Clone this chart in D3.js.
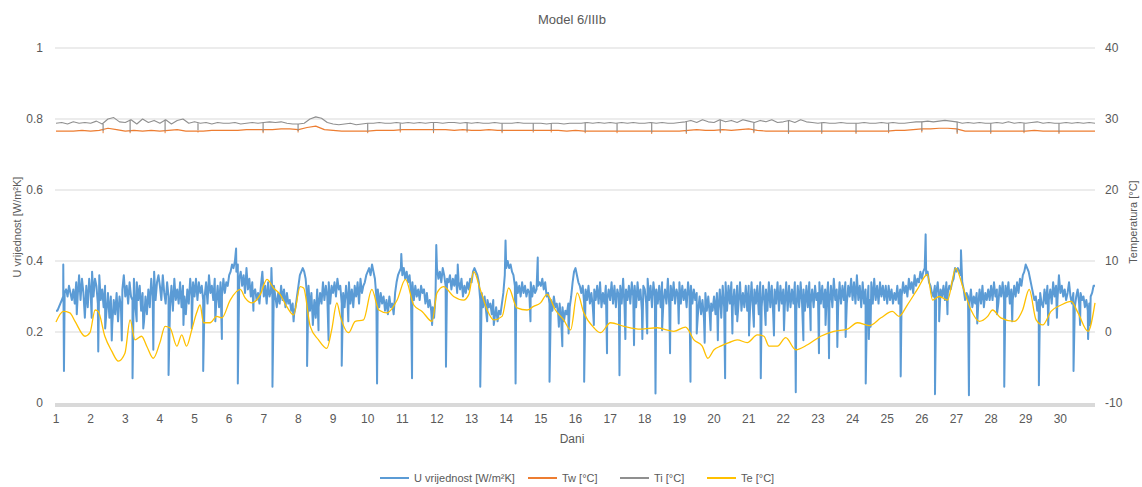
<!DOCTYPE html>
<html><head><meta charset="utf-8">
<script src="https://cdn.jsdelivr.net/npm/d3@7"></script>
<style>
html,body{margin:0;padding:0;background:#fff;}
svg{display:block;font-family:"Liberation Sans",Arial,sans-serif;}
</style></head>
<body><svg id="chart" width="1142" height="487"></svg>
<script>
// ---- DATA ----
const dayTicks = [1,2,3,4,5,6,7,8,9,10,11,12,13,14,15,16,17,18,19,20,21,22,23,24,25,26,27,28,29,30];
const uTicks = [0,0.2,0.4,0.6,0.8,1];
const uTickLabels = ["0","0.2","0.4","0.6","0.8","1"];
const tTicks = [-10,0,10,20,30,40];
const tTickLabels = ["-10","0","10","20","30","40"];

// U value, hourly (24 per day), day 1.0 .. 31.0
const uValues = [
 0.26,0.26,0.27,0.28,0.29,0.30,0.31,0.32,0.30,0.33,0.31,0.29,0.32,0.28,0.34,0.30,0.36,0.29,0.35,0.31,0.24,0.33,0.27,0.35,
 0.31,0.37,0.30,0.35,0.33,0.28,0.36,0.29,0.32,0.27,0.33,0.26,0.31,0.24,0.30,0.22,0.29,0.25,0.31,0.23,0.30,0.27,0.32,0.36,
 0.30,0.33,0.28,0.34,0.30,0.29,0.35,0.27,0.34,0.29,0.33,0.26,0.31,0.23,0.30,0.25,0.32,0.27,0.35,0.30,0.37,0.29,0.34,0.36,
 0.33,0.29,0.36,0.31,0.28,0.34,0.30,0.27,0.33,0.26,0.35,0.29,0.32,0.28,0.34,0.27,0.33,0.30,0.25,0.32,0.28,0.35,0.30,0.34,
 0.30,0.35,0.29,0.34,0.31,0.33,0.29,0.30,0.34,0.28,0.36,0.31,0.33,0.29,0.35,0.28,0.33,0.27,0.34,0.30,0.35,0.31,0.34,0.33,
 0.36,0.37,0.39,0.38,0.40,0.37,0.39,0.35,0.37,0.33,0.36,0.31,0.38,0.32,0.35,0.30,0.34,0.31,0.32,0.29,0.31,0.28,0.33,0.37,
 0.30,0.33,0.28,0.34,0.30,0.32,0.29,0.33,0.30,0.27,0.31,0.28,0.33,0.29,0.32,0.27,0.31,0.28,0.29,0.26,0.28,0.25,0.27,0.30,
 0.33,0.36,0.37,0.38,0.37,0.35,0.30,0.33,0.26,0.31,0.22,0.29,0.24,0.32,0.27,0.31,0.28,0.34,0.29,0.33,0.30,0.34,0.28,0.33,
 0.31,0.34,0.30,0.35,0.32,0.33,0.28,0.31,0.27,0.33,0.29,0.34,0.28,0.32,0.27,0.33,0.30,0.34,0.28,0.35,0.31,0.33,0.34,0.36,
 0.37,0.38,0.36,0.39,0.37,0.35,0.30,0.32,0.27,0.31,0.28,0.30,0.26,0.29,0.25,0.30,0.27,0.28,0.25,0.31,0.34,0.36,0.37,0.38,
 0.36,0.38,0.35,0.37,0.34,0.36,0.31,0.34,0.29,0.33,0.30,0.32,0.29,0.33,0.31,0.32,0.28,0.31,0.27,0.29,0.26,0.27,0.24,0.30,
 0.38,0.35,0.37,0.34,0.38,0.36,0.33,0.35,0.34,0.36,0.32,0.35,0.33,0.36,0.31,0.34,0.32,0.35,0.30,0.33,0.31,0.34,0.32,0.35,
 0.34,0.37,0.38,0.37,0.36,0.34,0.29,0.31,0.27,0.30,0.26,0.29,0.27,0.28,0.25,0.29,0.24,0.27,0.23,0.26,0.25,0.28,0.31,0.36,
 0.38,0.40,0.38,0.39,0.37,0.36,0.33,0.34,0.31,0.33,0.30,0.34,0.31,0.33,0.30,0.32,0.31,0.34,0.30,0.33,0.31,0.32,0.33,0.34,
 0.33,0.35,0.32,0.34,0.30,0.31,0.28,0.29,0.26,0.30,0.27,0.28,0.25,0.28,0.24,0.27,0.23,0.26,0.25,0.28,0.27,0.30,0.34,0.37,
 0.38,0.36,0.34,0.33,0.31,0.33,0.28,0.32,0.29,0.33,0.28,0.31,0.27,0.32,0.29,0.33,0.28,0.34,0.27,0.31,0.28,0.33,0.29,0.32,
 0.29,0.34,0.28,0.33,0.27,0.32,0.30,0.33,0.28,0.35,0.27,0.32,0.29,0.33,0.28,0.34,0.30,0.33,0.27,0.34,0.29,0.32,0.26,0.33,
 0.32,0.28,0.35,0.29,0.33,0.27,0.34,0.30,0.32,0.28,0.33,0.27,0.34,0.29,0.32,0.28,0.35,0.27,0.33,0.29,0.34,0.28,0.32,0.30,
 0.34,0.28,0.33,0.29,0.32,0.27,0.34,0.30,0.33,0.28,0.32,0.29,0.31,0.26,0.30,0.25,0.29,0.24,0.31,0.26,0.30,0.25,0.28,0.26,
 0.30,0.25,0.31,0.26,0.32,0.24,0.33,0.27,0.34,0.26,0.33,0.28,0.34,0.27,0.32,0.25,0.33,0.28,0.34,0.26,0.31,0.27,0.33,0.26,
 0.33,0.27,0.34,0.26,0.32,0.28,0.33,0.25,0.34,0.27,0.33,0.28,0.32,0.26,0.34,0.27,0.33,0.25,0.32,0.28,0.34,0.26,0.33,0.28,
 0.32,0.27,0.34,0.26,0.33,0.27,0.32,0.28,0.34,0.26,0.33,0.27,0.34,0.28,0.32,0.26,0.33,0.27,0.34,0.28,0.32,0.27,0.33,0.29,
 0.31,0.34,0.28,0.33,0.27,0.32,0.29,0.34,0.28,0.33,0.27,0.35,0.29,0.32,0.27,0.34,0.28,0.33,0.29,0.34,0.28,0.33,0.30,0.35,
 0.29,0.34,0.28,0.36,0.29,0.33,0.27,0.34,0.28,0.32,0.27,0.33,0.29,0.34,0.28,0.35,0.29,0.33,0.28,0.34,0.30,0.33,0.29,0.33,
 0.28,0.33,0.29,0.32,0.28,0.31,0.29,0.33,0.28,0.32,0.30,0.34,0.31,0.33,0.30,0.35,0.32,0.34,0.31,0.36,0.33,0.35,0.34,0.37,
 0.35,0.37,0.38,0.36,0.37,0.34,0.33,0.31,0.30,0.33,0.31,0.34,0.29,0.32,0.30,0.33,0.29,0.34,0.31,0.33,0.32,0.34,0.35,0.38,
 0.37,0.38,0.37,0.36,0.34,0.32,0.29,0.31,0.30,0.28,0.32,0.27,0.30,0.28,0.31,0.27,0.32,0.28,0.33,0.27,0.31,0.29,0.32,0.29,
 0.33,0.29,0.34,0.30,0.32,0.28,0.33,0.30,0.34,0.29,0.33,0.30,0.34,0.28,0.32,0.29,0.33,0.30,0.34,0.31,0.35,0.33,0.36,0.37,
 0.39,0.38,0.37,0.35,0.33,0.31,0.29,0.30,0.26,0.29,0.31,0.28,0.27,0.32,0.28,0.33,0.29,0.32,0.28,0.34,0.30,0.33,0.29,0.36,
 0.31,0.33,0.30,0.32,0.29,0.31,0.34,0.30,0.28,0.31,0.27,0.30,0.32,0.28,0.31,0.29,0.30,0.27,0.29,0.26,0.28,0.30,0.31,0.33,
 0.33
];
// short U spikes and dips (day, value)
const uSpikeDays = [1.21,1.23,1.6,2.03,2.22,2.42,2.61,2.9,3.21,3.33,3.52,3.81,4.25,4.68,4.92,5.25,5.6,5.79,6.20,6.25,6.7,7.22,7.25,7.86,8.25,8.58,8.87,9.25,9.44,10.27,10.97,11.28,11.86,11.98,12.26,12.6,13.25,13.45,13.64,13.98,14.27,14.7,14.91,15.25,15.52,15.62,15.8,16.25,16.53,16.91,17.27,17.44,17.69,17.93,18.07,18.31,18.5,18.73,18.98,19.32,19.5,19.73,19.9,20.11,20.32,20.53,20.67,21.01,21.15,21.35,21.49,21.73,22.02,22.36,22.58,22.79,23.03,23.22,23.32,23.56,23.8,24.38,24.47,24.52,25.39,26.11,26.38,26.5,26.74,27.13,27.36,27.6,28.17,28.38,28.61,29.38,29.65,29.9,30.38,30.57,30.8,30.86];
const uSpikeVals = [0.39,0.09,0.25,0.24,0.145,0.21,0.176,0.176,0.07,0.23,0.21,0.15,0.079,0.22,0.21,0.09,0.23,0.18,0.435,0.055,0.26,0.38,0.046,0.23,0.104,0.205,0.177,0.105,0.23,0.055,0.42,0.07,0.22,0.445,0.102,0.39,0.046,0.23,0.22,0.458,0.055,0.23,0.41,0.06,0.215,0.16,0.196,0.06,0.22,0.14,0.078,0.18,0.163,0.18,0.196,0.027,0.205,0.14,0.224,0.06,0.196,0.17,0.205,0.177,0.07,0.196,0.23,0.19,0.215,0.07,0.22,0.19,0.205,0.03,0.177,0.205,0.14,0.22,0.126,0.158,0.186,0.055,0.18,0.215,0.075,0.475,0.025,0.23,0.25,0.43,0.022,0.224,0.25,0.046,0.23,0.05,0.22,0.24,0.09,0.22,0.18,0.22];

// Te (outdoor temperature) read points
const teDays = [1.0,1.21,1.40,1.55,1.84,1.98,2.13,2.22,2.41,2.61,2.80,2.99,3.14,3.28,3.47,3.62,3.81,4.0,4.15,4.29,4.49,4.63,4.77,4.92,5.06,5.16,5.26,5.45,5.64,5.79,6.03,6.32,6.46,6.66,6.90,7.09,7.28,7.47,7.66,7.86,8.05,8.15,8.34,8.58,8.82,8.96,9.11,9.21,9.45,9.64,9.88,10.12,10.32,10.56,10.85,11.09,11.33,11.57,11.86,12.0,12.19,12.48,12.77,12.92,13.06,13.25,13.45,13.64,13.88,14.07,14.31,14.60,14.79,14.99,15.18,15.42,15.66,15.86,16.05,16.24,16.53,16.72,17.01,17.40,17.88,18.36,18.84,19.18,19.42,19.66,19.82,20.0,20.19,20.43,20.67,20.96,21.25,21.44,21.59,21.83,22.07,22.36,22.70,23.08,23.46,23.85,24.14,24.48,24.82,25.15,25.34,25.58,25.87,26.16,26.31,26.50,26.74,26.98,27.18,27.42,27.66,27.90,28.04,28.28,28.67,28.91,29.10,29.30,29.49,29.73,30.02,30.31,30.51,30.80,31.0];
const teVals = [1.4,2.9,2.7,1.5,-0.6,-0.1,3.1,2.9,-0.6,-2.7,-4.1,-3.0,1.7,-1.1,-0.6,-2.0,-3.7,-1.5,0.8,0.6,-2.0,-0.4,-2.0,0.3,2.7,3.8,1.3,1.3,2.2,2.0,4.5,6.0,4.8,4.1,5.3,7.4,6.2,5.3,3.6,2.4,6.4,6.2,0.8,-1.1,-2.3,0.3,4.1,2.2,-0.1,1.5,1.7,6.0,3.1,2.7,4.5,7.4,3.8,2.9,1.5,5.5,6.4,5.0,4.5,5.3,8.5,6.0,3.1,1.7,2.2,6.2,3.4,3.1,3.6,4.1,5.3,3.1,1.7,0.3,5.5,2.7,0.6,-0.1,1.3,0.8,0.4,0.6,0.1,0.7,-1.1,-2.0,-3.7,-2.5,-2.0,-1.5,-1.1,-1.5,-0.4,-0.6,-2.0,-2.0,-0.8,-2.5,-1.8,-0.6,0.1,0.4,1.3,0.9,2.0,2.9,2.2,3.8,6.0,8.1,4.5,5.0,4.5,9.0,6.4,3.1,1.5,2.2,3.1,2.0,1.5,3.1,6.0,1.7,1.0,2.9,3.8,4.3,2.7,0.1,4.1];

// Tw, 4 per day (every 6 h), day 1.0 .. 31.0
const twValues = [
 28.3,28.3,28.3,28.4, 28.3,28.4,28.7,28.5, 28.3,28.4,28.3,28.4, 28.3,28.4,28.5,28.3,
 28.3,28.3,28.4,28.4, 28.4,28.4,28.5,28.5, 28.5,28.5,28.6,28.6, 28.5,28.8,29.0,28.5,
 28.4,28.3,28.3,28.3, 28.3,28.4,28.4,28.4, 28.5,28.5,28.5,28.5, 28.5,28.5,28.4,28.5,
 28.4,28.4,28.5,28.4, 28.4,28.4,28.4,28.4, 28.4,28.4,28.4,28.3, 28.4,28.3,28.3,28.3,
 28.3,28.3,28.3,28.3, 28.3,28.3,28.3,28.3, 28.3,28.4,28.5,28.4, 28.4,28.5,28.4,28.5,
 28.6,28.4,28.3,28.3, 28.3,28.3,28.3,28.3, 28.3,28.3,28.3,28.3, 28.3,28.3,28.3,28.3,
 28.3,28.4,28.4,28.5, 28.6,28.6,28.7,28.7, 28.6,28.3,28.3,28.3, 28.3,28.3,28.3,28.3,
 28.3,28.4,28.3,28.3, 28.3,28.3,28.3,28.3, 28.3
];
// Ti, 6 per day (every 4 h), day 1.0 .. 31.0
const tiValues = [
 29.4,29.5,29.3,29.6,29.4,29.5, 29.4,29.7,29.3,30.0,30.2,29.6, 29.5,29.9,29.3,30.0,29.5,29.8,
 29.4,29.9,29.3,29.8,30.0,29.4, 29.6,29.4,29.5,29.3,29.5,29.4, 29.4,29.5,29.3,29.4,29.5,29.4,
 29.5,29.6,29.5,29.6,29.4,29.3, 29.3,29.4,30.0,30.3,30.1,29.5, 29.3,29.2,29.3,29.4,29.2,29.3,
 29.4,29.4,29.5,29.4,29.4,29.5, 29.4,29.5,29.4,29.5,29.4,29.5, 29.5,29.4,29.5,29.5,29.4,29.5,
 29.4,29.5,29.4,29.4,29.5,29.4, 29.4,29.4,29.5,29.4,29.4,29.4, 29.4,29.3,29.4,29.4,29.3,29.4,
 29.4,29.4,29.5,29.4,29.5,29.4, 29.5,29.4,29.5,29.4,29.5,29.4, 29.4,29.5,29.4,29.5,29.4,29.4,
 29.5,29.6,29.8,29.5,29.9,29.6, 29.5,29.9,29.6,29.8,29.5,29.9, 29.7,29.5,29.8,29.6,29.9,29.5,
 29.6,29.8,29.5,29.9,29.6,29.5, 29.4,29.5,29.4,29.4,29.5,29.4, 29.4,29.4,29.5,29.4,29.4,29.5,
 29.4,29.5,29.4,29.4,29.5,29.6, 29.6,29.7,29.6,29.7,29.8,29.7, 29.6,29.4,29.5,29.4,29.5,29.4,
 29.4,29.5,29.4,29.6,29.4,29.5, 29.4,29.5,29.6,29.4,29.5,29.4, 29.4,29.5,29.4,29.5,29.4,29.5,
 29.4
];
// short daily dips of Ti / Tw
const dipDays = [2.36,3.14,4.15,5.1,6.98,7.99,10.0,10.94,11.9,12.87,13.88,14.78,15.3,16.28,17.2,18.2,19.2,20.18,21.15,22.15,23.11,24.1,25.04,26.0,27.02,27.99,28.95,29.96];
const tiDipVals = [28.3,28.2,28.3,28.4,28.2,28.3,28.2,28.4,28.2,28.3,28.2,28.3,28.4,28.2,28.3,28.1,28.1,28.2,28.2,28.0,28.1,28.1,28.2,28.3,28.1,28.1,28.2,28.1];
const twDipVals = [28.0,28.0,28.0,28.1,28.0,28.1,28.0,28.1,28.0,28.1,28.0,28.1,28.1,28.0,28.0,27.9,27.9,28.0,28.0,27.9,27.9,27.9,28.0,28.1,27.9,27.9,28.0,27.9];

const seriesNames = ["U vrijednost [W/m²K]","Tw [°C]","Ti [°C]","Te [°C]"];
const seriesColors = ["#5B9BD5","#ED7D31","#8F8F8F","#FFC000"];

// ---- CHART ----
const svg = d3.select("#chart");
const x = d3.scaleLinear().domain([1,31]).range([56,1095]);
const yL = d3.scaleLinear().domain([0,1]).range([403,48]);
const yR = d3.scaleLinear().domain([-10,40]).range([403,48]);
const textCol = "#595959";

svg.append("g").selectAll("line").data(uTicks.filter(v=>v>0)).join("line")
  .attr("x1",55).attr("x2",1095).attr("y1",d=>yL(d)).attr("y2",d=>yL(d))
  .attr("stroke","#d9d9d9").attr("stroke-width",1);
svg.append("line").attr("x1",55).attr("x2",1095).attr("y1",yL(0)+2).attr("y2",yL(0)+2)
  .attr("stroke","#d9d9d9").attr("stroke-width",4);

svg.append("g").selectAll("text").data(uTicks).join("text")
  .attr("x",43).attr("y",d=>yL(d)+4).attr("text-anchor","end")
  .attr("font-size",12).attr("fill",textCol).text((d,i)=>uTickLabels[i]);
svg.append("g").selectAll("text").data(tTicks).join("text")
  .attr("x",1105).attr("y",d=>yR(d)+4).attr("text-anchor","start")
  .attr("font-size",12).attr("fill",textCol).text((d,i)=>tTickLabels[i]);
svg.append("g").selectAll("text").data(dayTicks).join("text")
  .attr("x",d=>x(d)).attr("y",423).attr("text-anchor","middle")
  .attr("font-size",12).attr("fill",textCol).text(d=>d);

svg.append("text").attr("x",572).attr("y",24).attr("text-anchor","middle")
  .attr("font-size",13).attr("fill",textCol).text("Model 6/IIIb");
svg.append("text").attr("x",572).attr("y",443).attr("text-anchor","middle")
  .attr("font-size",12).attr("fill",textCol).text("Dani");
svg.append("text").attr("transform","translate(21,227) rotate(-90)").attr("text-anchor","middle")
  .attr("font-size",11).attr("fill",textCol).text("U vrijednost [W/m²K]");
svg.append("text").attr("transform","translate(1137,222) rotate(-90)").attr("text-anchor","middle")
  .attr("font-size",11).attr("fill",textCol).text("Temperatura [°C]");

const uPts = uValues.map((v,i)=>[1+i/24,v])
  .concat(uSpikeDays.map((d,i)=>[d,uSpikeVals[i]]))
  .sort((a,b)=>a[0]-b[0]);
const twPts = twValues.map((v,i)=>[1+i/4,v]);
const tiPts = tiValues.map((v,i)=>[1+i/6,v]);
const tePts = teDays.map((d,i)=>[d,teVals[i]]);

const lineL = d3.line().x(d=>x(d[0])).y(d=>yL(d[1]));
const lineR = d3.line().x(d=>x(d[0])).y(d=>yR(d[1]));

svg.append("path").datum(twPts).attr("d",lineR).attr("fill","none")
  .attr("stroke",seriesColors[1]).attr("stroke-width",1.2).attr("stroke-linejoin","round");
svg.append("g").selectAll("line").data(dipDays).join("line")
  .attr("x1",d=>x(d)).attr("x2",d=>x(d))
  .attr("y1",d=>yR(twValues[Math.round((d-1)*4)])).attr("y2",(d,i)=>yR(twDipVals[i]))
  .attr("stroke",seriesColors[1]).attr("stroke-width",1);
svg.append("path").datum(tiPts).attr("d",lineR).attr("fill","none")
  .attr("stroke",seriesColors[2]).attr("stroke-width",1.1).attr("stroke-linejoin","round");
svg.append("g").selectAll("line").data(dipDays).join("line")
  .attr("x1",d=>x(d)).attr("x2",d=>x(d))
  .attr("y1",d=>yR(tiValues[Math.round((d-1)*6)])).attr("y2",(d,i)=>yR(tiDipVals[i]))
  .attr("stroke",seriesColors[2]).attr("stroke-width",1.2);
svg.append("path").datum(uPts).attr("d",lineL).attr("fill","none")
  .attr("stroke",seriesColors[0]).attr("stroke-width",2).attr("stroke-linejoin","round");
svg.append("path").datum(tePts).attr("d",d3.line().curve(d3.curveMonotoneX).x(d=>x(d[0])).y(d=>yR(d[1])))
  .attr("fill","none").attr("stroke",seriesColors[3]).attr("stroke-width",1.3).attr("stroke-linejoin","round");

const legX = [380,528,620,707];
const leg = svg.append("g");
seriesNames.forEach((n,i)=>{
  leg.append("line").attr("x1",legX[i]).attr("x2",legX[i]+29).attr("y1",478).attr("y2",478)
    .attr("stroke",seriesColors[i]).attr("stroke-width",2);
  leg.append("text").attr("x",legX[i]+34).attr("y",482).attr("font-size",11)
    .attr("fill",textCol).text(n);
});
</script></body></html>
